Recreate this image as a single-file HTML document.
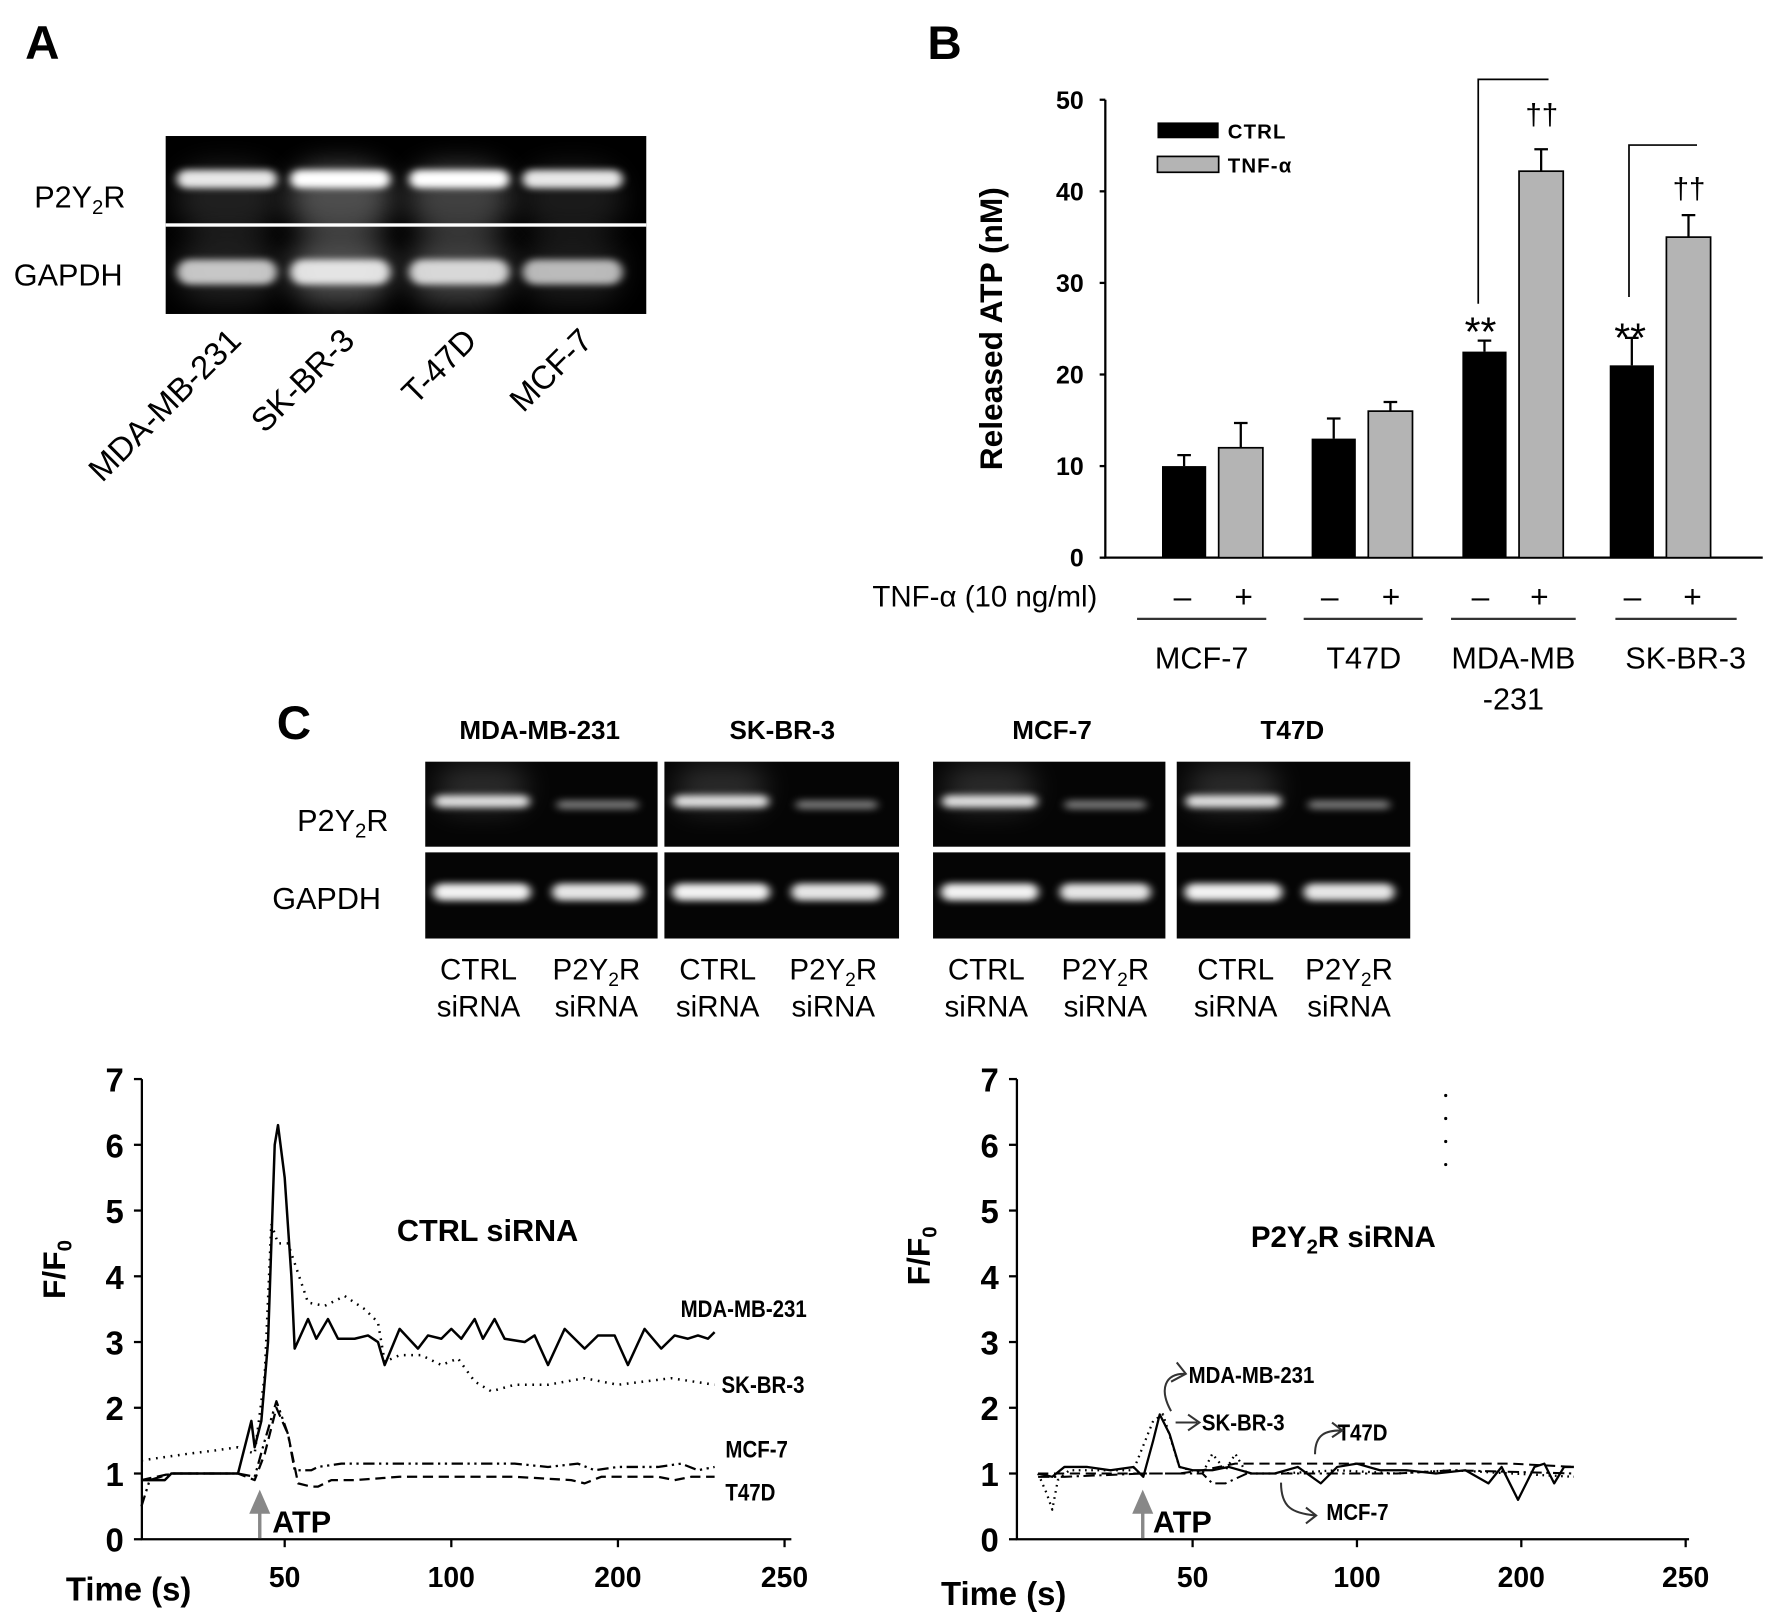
<!DOCTYPE html>
<html><head><meta charset="utf-8"><style>
html,body{margin:0;padding:0;background:#fff;}
svg{display:block;font-family:"Liberation Sans",Arial,sans-serif;}
</style></head><body>
<svg id="fig" width="1772" height="1622" viewBox="0 0 1563 1431" xmlns="http://www.w3.org/2000/svg">
<defs>
<filter id="blur" x="-30%" y="-100%" width="160%" height="300%"><feGaussianBlur stdDeviation="4 3"/></filter>
<filter id="haze" x="-50%" y="-50%" width="200%" height="200%"><feGaussianBlur stdDeviation="12"/></filter>
</defs>
<rect width="1563" height="1431" fill="#fff"/>

<!-- Panel A -->
<text x="22" y="52" font-size="42" font-weight="bold">A</text>
<g>
<rect x="146" y="120" width="424" height="157" fill="#000"/>
</g>
<g id="gelA"></g>
<rect x="146" y="197" width="424" height="3" fill="#fff"/>
<text x="30" y="183" font-size="27">P2Y<tspan font-size="18" dy="6">2</tspan><tspan dy="-6">R</tspan></text>
<text x="12" y="252" font-size="27">GAPDH</text>
<g font-size="29">
<text transform="translate(200,288) rotate(-45)" text-anchor="end" dy="20">MDA-MB-231</text>
<text transform="translate(300,288) rotate(-45)" text-anchor="end" dy="20">SK-BR-3</text>
<text transform="translate(408,288) rotate(-45)" text-anchor="end" dy="20">T-47D</text>
<text transform="translate(510,288) rotate(-45)" text-anchor="end" dy="20">MCF-7</text>
</g>

<!-- Panel B -->
<text x="818" y="52" font-size="42" font-weight="bold">B</text>
<g id="chartB"></g>
<text transform="translate(884,290) rotate(-90)" text-anchor="middle" font-size="28" font-weight="bold">Released ATP (nM)</text>
<g>
<rect x="1021" y="108" width="54" height="14" fill="#000"/>
<text x="1083" y="122" font-size="18" font-weight="bold" letter-spacing="1">CTRL</text>
<rect x="1021" y="138" width="54" height="14" fill="#b4b4b4" stroke="#000" stroke-width="1.5"/>
<text x="1083" y="152" font-size="18" font-weight="bold" letter-spacing="1">TNF-α</text>
</g>
<text x="968" y="535" text-anchor="end" font-size="26">TNF-α (10 ng/ml)</text>
<g id="tnfRow" font-size="28"></g>
<g font-size="27" text-anchor="middle">
<text x="1060" y="590">MCF-7</text>
<text x="1203" y="590">T47D</text>
<text x="1335" y="590">MDA-MB</text>
<text x="1335" y="626">-231</text>
<text x="1487" y="590">SK-BR-3</text>
</g>

<!-- Panel C -->
<text x="244" y="652" font-size="42" font-weight="bold">C</text>
<g font-size="23" font-weight="bold" text-anchor="middle">
<text x="476" y="652">MDA-MB-231</text>
<text x="690" y="652">SK-BR-3</text>
<text x="928" y="652">MCF-7</text>
<text x="1140" y="652">T47D</text>
</g>
<g id="gelC"></g>
<text x="262" y="733" font-size="27">P2Y<tspan font-size="18" dy="6">2</tspan><tspan dy="-6">R</tspan></text>
<text x="240" y="802" font-size="27">GAPDH</text>
<g id="laneC" font-size="26" text-anchor="middle"></g>

<!-- Bottom charts -->
<g id="chartL"></g>
<g id="chartR"></g>
</svg>
<script>
const NS='http://www.w3.org/2000/svg';
function mk(parent,tag,attrs,text){const e=document.createElementNS(NS,tag);for(const k in attrs)e.setAttribute(k,attrs[k]);if(text!==undefined)e.textContent=text;parent.appendChild(e);return e;}

/* ---------- Panel B data ---------- */
const groups=['MCF-7','T47D','MDA-MB-231','SK-BR-3'];
const ctrlValues=[10,13,22.5,21];
const ctrlErrors=[1.2,2.2,1.2,3.0];
const tnfValues=[12,16,42.2,35];
const tnfErrors=[2.7,1.0,2.4,2.4];
const yTicksB=[0,10,20,30,40,50];
const ctrlX=[1025,1157,1290,1420];

const gB=document.getElementById('chartB');
const yB=v=>492-v*(404/50);
const axB=mk(gB,'path',{d:'M975 88 V492 H1555',stroke:'#000','stroke-width':2,fill:'none'});


yTicksB.forEach(t=>{
  const tk=mk(gB,'line',{x1:970,x2:975,y1:yB(t),y2:yB(t),stroke:'#000','stroke-width':2});
  
  
  const tl=mk(gB,'text',{x:956,y:yB(t)+8,'text-anchor':'end','font-size':22,'font-weight':'bold'},String(t));
  
  
});
groups.forEach((g,i)=>{
  const bx=ctrlX[i], bw=39;
  [[ctrlValues[i],ctrlErrors[i],bx,'#000'],[tnfValues[i],tnfErrors[i],bx+50,'#b4b4b4']].forEach((s,j)=>{
    const top=yB(s[0]+s[1]), cx=s[2]+bw/2;
    const eb=mk(gB,'path',{d:`M${cx} ${yB(s[0])} V${top} M${cx-6} ${top} H${cx+6}`,stroke:'#000','stroke-width':2,fill:'none'});
    
    
    const r=mk(gB,'rect',{x:s[2],y:yB(s[0]),width:bw,height:492-yB(s[0]),fill:s[3],stroke:'#000','stroke-width':j?1.5:0});
    
    
  });
});
const sig=mk(gB,'path',{d:'M1304 268 V70 H1366 M1437 262 V128 H1497',stroke:'#000','stroke-width':1.5,fill:'none'});


[[1306,305,'**',36],[1438,310,'**',36],[1360,110,'††',26],[1490,175,'††',26]].forEach(a=>{
  const t=mk(gB,'text',{x:a[0],y:a[1],'text-anchor':'middle','font-size':a[3]},a[2]);
  
  
});
const tr=document.getElementById('tnfRow');
[[1043,'–'],[1097,'+'],[1173,'–'],[1227,'+'],[1306,'–'],[1358,'+'],[1440,'–'],[1493,'+']].forEach(a=>{
  const t=mk(tr,'text',{x:a[0],y:536,'text-anchor':'middle'},a[1]);
  
  
});
[[1003,1117],[1150,1255],[1280,1390],[1425,1532]].forEach(a=>{
  const l=mk(tr,'line',{x1:a[0],x2:a[1],y1:546,y2:546,stroke:'#333','stroke-width':2});
  
  
});

/* ---------- Gels ---------- */
function band(parent,cx,cy,w,h,op,f){
  const e=mk(parent,'rect',{x:cx-w/2,y:cy-h/2,width:w,height:h,rx:h/2,fill:'#fff',opacity:op,filter:'url(#'+(f||'blur')+')'});
  
  
}
const gA=document.getElementById('gelA');
[[200,0.9,0.75,0.12],[300,1,0.85,0.3],[405,1,0.8,0.25],[505,0.9,0.7,0.1]].forEach(l=>{
  band(gA,l[0],175,90,60,l[3],'haze');
  band(gA,l[0],238,90,60,l[3],'haze');
  band(gA,l[0],158,88,16,l[1]);
  band(gA,l[0],240,88,22,l[2]);
});
const gC=document.getElementById('gelC');
const boxesC=[[375,205],[586,207],[823,205],[1038,206]];
boxesC.forEach(b=>{
  const r1=mk(gC,'rect',{x:b[0],y:672,width:b[1],height:75,fill:'#050505'});
  
  
  const r2=mk(gC,'rect',{x:b[0],y:752,width:b[1],height:76,fill:'#050505'});
  
  
  band(gC,b[0]+50,695,80,40,0.15,'haze');
  band(gC,b[0]+50,707,84,11,0.85);
  band(gC,b[0]+152,710,72,8,0.45);
  band(gC,b[0]+50,787,86,15,0.95);
  band(gC,b[0]+152,787,80,15,0.9);
});
const lC=document.getElementById('laneC');
[[422,'CTRL'],[526,'P2Y2R'],[633,'CTRL'],[735,'P2Y2R'],[870,'CTRL'],[975,'P2Y2R'],[1090,'CTRL'],[1190,'P2Y2R']].forEach(a=>{
  let t;
  if(a[1]==='CTRL'){t=mk(lC,'text',{x:a[0],y:864},'CTRL');}
  else{t=mk(lC,'text',{x:a[0],y:864});t.innerHTML='P2Y<tspan font-size="17" dy="6">2</tspan><tspan dy="-6">R</tspan>';}
  
  
  const s=mk(lC,'text',{x:a[0],y:897},'siRNA');
  
  
});

/* ---------- Calcium traces data ---------- */
const xTickVals=[50,100,150,200];
const xTickLabels=['50','100','200','250'];
const yTicksF=[0,1,2,3,4,5,6,7];

const ctrlMdaT=[7,14,16,36,40,41,43,45,47,48,50,52,53,57,59.5,63,66,71,75,78,80,84.5,90,93,97,100,103,107,109.5,113,116,122,125,129,134,140,144,149,153,158,163,167,171,174,177,179];
const ctrlMdaV=[0.9,0.9,1.0,1.0,1.8,1.4,1.8,3.0,6.0,6.3,5.5,4.0,2.9,3.35,3.05,3.35,3.05,3.05,3.1,3.0,2.65,3.2,2.9,3.1,3.05,3.2,3.05,3.35,3.05,3.35,3.05,3.0,3.1,2.65,3.2,2.9,3.1,3.1,2.65,3.2,2.9,3.1,3.05,3.1,3.05,3.15];
const ctrlSkT=[7,14,21,29,36,41,44,46,48,51,53,57,62,68,74,78,80,84.5,91,97,102,107,112,119,129,140,150,166,179];
const ctrlSkV=[1.2,1.25,1.3,1.35,1.4,1.3,2.5,4.8,4.5,4.5,4.2,3.6,3.55,3.7,3.5,3.3,2.7,2.8,2.8,2.65,2.75,2.4,2.25,2.35,2.35,2.45,2.35,2.45,2.35];
const ctrlMcfT=[7,9.5,16,36,41,44,47.5,51,53,58,60,67,84.5,102,119,129,138,143,150,162,169,174,179];
const ctrlMcfV=[0.5,0.9,1.0,1.0,0.95,1.5,2.1,1.6,1.05,1.05,1.1,1.15,1.15,1.15,1.15,1.1,1.15,1.05,1.1,1.1,1.15,1.05,1.1];
const ctrlT47T=[7,16,36,41,44,47.5,51,54,58,60,64,71,84.5,102,119,136,140,145,162,167,172,179];
const ctrlT47V=[0.9,1.0,1.0,0.9,1.3,2.0,1.6,0.85,0.8,0.8,0.9,0.9,0.95,0.95,0.95,0.9,0.85,0.95,0.95,0.9,0.95,0.95];

const siMdaT=[3,7.3,11,18,25,32,35,38,40,43,46,50,56,61,68,75,82,89,94,100,107,115,124,133,140,144,149,154,157,160,163,166];
const siMdaV=[1.0,0.95,1.1,1.1,1.05,1.1,0.95,1.5,1.9,1.6,1.1,1.05,1.05,1.1,1.0,1.0,1.1,0.85,1.1,1.15,1.05,1.05,1.0,1.05,0.85,1.1,0.6,1.1,1.15,0.85,1.1,1.1];
const siSkT=[3,5.6,7.3,9,12.5,32,38,41,46,53,56,60,63,66.5,77,94,112,129,147,166];
const siSkV=[1.0,0.7,0.45,0.9,1.05,1.05,1.8,1.9,1.1,1.0,1.3,1.05,1.3,1.0,1.0,1.05,1.0,1.05,1.0,0.95];
const siT47T=[3,11,46,53,63,129,147,166];
const siT47V=[1.0,1.0,1.0,1.05,1.15,1.15,1.15,1.1];
const siMcfT=[3,11,35,53,56,60,66.5,77,94,112,129,166];
const siMcfV=[0.95,0.95,1.0,1.0,0.85,0.85,1.0,1.0,1.0,1.0,1.05,1.0];
const dotMarkT=[127];
const dotMarkV=[5.7,6.05,6.4,6.75];

function buildChart(gid,ax0,ax1,x50,xstep,series){
  const g=document.getElementById(gid);
  const y=v=>1358-v*58;
  const x=u=>x50+(u-50)*xstep;
  const ax=mk(g,'path',{d:`M${ax0} 952 V1358 H${ax1}`,stroke:'#000','stroke-width':2,fill:'none'});
  
  
  yTicksF.forEach(t=>{
    const tk=mk(g,'line',{x1:ax0-7,x2:ax0,y1:y(t),y2:y(t),stroke:'#000','stroke-width':2});
    
    
    const tl=mk(g,'text',{x:ax0-16,y:y(t)+11,'text-anchor':'end','font-size':29,'font-weight':'bold'},String(t));
    
    
  });
  xTickVals.forEach((t,i)=>{
    const tk=mk(g,'line',{x1:x(t),x2:x(t),y1:1358,y2:1365,stroke:'#000','stroke-width':2});
    
    
    const tl=mk(g,'text',{x:x(t),y:1400,'text-anchor':'middle','font-size':25,'font-weight':'bold'},xTickLabels[i]);
    
    
  });
  series.forEach(s=>{
    const d=s.t.map((t,i)=>(i?'L':'M')+x(t).toFixed(1)+' '+y(s.v[i]).toFixed(1)).join(' ');
    const p=mk(g,'path',{d:d,fill:'none',stroke:'#000','stroke-width':s.w||2.2,'stroke-dasharray':s.dash||'none','stroke-linejoin':'round'});
    
    
  });
  return {g,x,y};
}

const L=buildChart('chartL',125,698,251,2.94,[
  {name:'trace-ctrl-sk-br-3',t:ctrlSkT,v:ctrlSkV,dash:'1.5 5',w:2.2},
  {name:'trace-ctrl-mcf-7',t:ctrlMcfT,v:ctrlMcfV,dash:'10 4 2 4 2 4',w:2},
  {name:'trace-ctrl-t47d',t:ctrlT47T,v:ctrlT47V,dash:'9 5',w:2},
  {name:'trace-ctrl-mda-mb-231',t:ctrlMdaT,v:ctrlMdaV,w:2.2}
]);
const R=buildChart('chartR',897,1490,1052,2.9,[
  {name:'trace-si-sk-br-3',t:siSkT,v:siSkV,dash:'1.5 4',w:2},
  {name:'trace-si-mcf-7',t:siMcfT,v:siMcfV,dash:'10 4 2 4',w:1.8},
  {name:'trace-si-t47d',t:siT47T,v:siT47V,dash:'9 5',w:1.8},
  {name:'trace-si-mda-mb-231',t:siMdaT,v:siMdaV,w:2}
]);
dotMarkV.forEach(v=>{
  const c=mk(R.g,'circle',{cx:R.x(dotMarkT[0]),cy:R.y(v),r:1.4,fill:'#000'});
  
  
});

function label(g,name,x,y,txt,size,weight,anchor,extra){
  const t=mk(g,'text',Object.assign({x:x,y:y,'font-size':size,'font-weight':weight||'normal','text-anchor':anchor||'start'},extra||{}));
  t.innerHTML=txt;
  
  
  return t;
}
const gl=L.g, gr=R.g;
label(gl,'y-axis-title-left',0,0,'F/F<tspan font-size="18" dy="6">0</tspan>',28,'bold','middle',{transform:'translate(57,1120) rotate(-90)'});
label(gl,'x-axis-title-left',58,1412,'Time (s)',29,'bold');
label(gl,'chart-title-left',430,1095,'CTRL siRNA',27,'bold','middle');
label(gl,'series-label-mda',0,1162,'MDA-MB-231',21,'bold','start',{transform:'scale(0.86 1)',x:698});
label(gl,'series-label-skbr3',0,1229,'SK-BR-3',21,'bold','start',{transform:'scale(0.86 1)',x:740});
label(gl,'series-label-mcf7',0,1286,'MCF-7',21,'bold','start',{transform:'scale(0.86 1)',x:744});
label(gl,'series-label-t47d',0,1324,'T47D',21,'bold','start',{transform:'scale(0.86 1)',x:744});
label(gl,'atp-label-left',240,1352,'ATP',27,'bold');
const a1=mk(gl,'path',{d:'M229 1357 V1330 M222 1334 L229 1318 L236 1334 Z',stroke:'#888','stroke-width':3,fill:'#888'});



label(gr,'y-axis-title-right',0,0,'F/F<tspan font-size="18" dy="6">0</tspan>',28,'bold','middle',{transform:'translate(820,1108) rotate(-90)'});
label(gr,'x-axis-title-right',830,1416,'Time (s)',29,'bold');
label(gr,'chart-title-right',1185,1100,'P2Y<tspan font-size="18" dy="6">2</tspan><tspan dy="-6">R siRNA</tspan>',26,'bold','middle');
label(gr,'series-label-mda-r',0,1220,'MDA-MB-231',20,'bold','start',{transform:'scale(0.9 1)',x:1165});
label(gr,'series-label-skbr3-r',0,1262,'SK-BR-3',20,'bold','start',{transform:'scale(0.9 1)',x:1178});
label(gr,'series-label-t47d-r',0,1271,'T47D',20,'bold','start',{transform:'scale(0.9 1)',x:1311});
label(gr,'series-label-mcf7-r',0,1341,'MCF-7',20,'bold','start',{transform:'scale(0.9 1)',x:1300});
label(gr,'atp-label-right',1017,1352,'ATP',27,'bold');
const a2=mk(gr,'path',{d:'M1008 1357 V1330 M1001 1334 L1008 1318 L1015 1334 Z',stroke:'#888','stroke-width':3,fill:'#888'});


const ar=mk(gr,'path',{d:'M1033 1245 C1022 1225 1028 1212 1045 1212 M1038 1202 L1046 1212 L1033 1219 M1037 1255 L1056 1255 M1048 1248 L1058 1255 L1048 1262 M1160 1283 C1160 1265 1170 1262 1183 1262 M1175 1255 L1184 1262 L1175 1268 M1130 1308 C1130 1330 1140 1335 1160 1337 M1152 1330 L1161 1337 L1152 1344',stroke:'#333','stroke-width':1.8,fill:'none'});


</script>
</body></html>
